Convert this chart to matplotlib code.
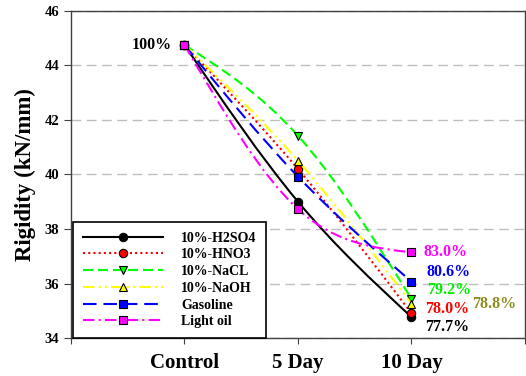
import numpy as np
import matplotlib
matplotlib.use("Agg")
import matplotlib.pyplot as plt
from matplotlib.path import Path
from matplotlib.patches import PathPatch
from matplotlib.lines import Line2D

plt.rcParams['font.family'] = ['Liberation Serif', 'DejaVu Serif']
plt.rcParams['font.weight'] = 'bold'

# data: rigidity at each exposure stage
stages = ['Control', '5 Day', '10 Day']
names = ['10%-H2SO4', '10%-HNO3', '10%-NaCL', '10%-NaOH', 'Gasoline', 'Light oil']
control = 44.75
day5 = [39.00, 40.20, 41.42, 40.50, 39.92, 38.73]
retained_pct = [77.7, 78.0, 79.2, 78.8, 80.6, 83.0]   # % of control after 10 days
day10 = [control * p / 100 for p in retained_pct]

colors = ['black', '#ff0000', '#00ff00', '#ffff00', '#0000ff', '#ff00ff']
markers = ['o', 'o', 'v', '^', 's', 's']
dashes = ['-', (0, (1, 1.5)), (0, (4.8, 2.4)), (0, (5.5, 2, 1, 2, 1, 2)),
          (0, (6.5, 3.3)), (0, (5.5, 2, 1, 2))]
label_colors = ['black', '#ff0000', '#00ee00', '#8c8c1e', '#0000ff', '#ff00ff']
label_offsets = [(10, -7), (10, 3), (11, 6), (44, 0), (11, 7), (9, 0)]  # points


def spline_path(xs, ys):
    """Natural cubic spline through the points, as a Bezier path."""
    xs = np.asarray(xs, float); ys = np.asarray(ys, float)
    n = len(xs); h = np.diff(xs)
    A = np.zeros((n, n)); b = np.zeros(n)
    A[0, 0] = A[-1, -1] = 1
    for i in range(1, n - 1):
        A[i, i - 1] = h[i - 1]; A[i, i] = 2 * (h[i - 1] + h[i]); A[i, i + 1] = h[i]
        b[i] = 6 * ((ys[i + 1] - ys[i]) / h[i] - (ys[i] - ys[i - 1]) / h[i - 1])
    M = np.linalg.solve(A, b)
    verts = [(xs[0], ys[0])]; codes = [Path.MOVETO]
    for i in range(n - 1):
        s = (ys[i + 1] - ys[i]) / h[i]
        d0 = s - h[i] * (2 * M[i] + M[i + 1]) / 6
        d1 = s + h[i] * (M[i] + 2 * M[i + 1]) / 6
        verts += [(xs[i] + h[i] / 3, ys[i] + d0 * h[i] / 3),
                  (xs[i + 1] - h[i] / 3, ys[i + 1] - d1 * h[i] / 3),
                  (xs[i + 1], ys[i + 1])]
        codes += [Path.CURVE4] * 3
    return Path(verts, codes)


fig = plt.figure(figsize=(5.26, 3.76), dpi=100)
ax = fig.add_axes([0.135, 0.101, 0.863, 0.870])
x = np.arange(1, len(stages) + 1)

handles = []
for i, name in enumerate(names):
    ys = [control, day5[i], day10[i]]
    ax.add_patch(PathPatch(spline_path(x, ys), fill=False, edgecolor=colors[i],
                           lw=1.5, linestyle=dashes[i], zorder=3 + 2 * i))
    ax.plot(x, ys, ls='none', marker=markers[i], ms=6, mfc=colors[i],
            mec='black', mew=0.8, zorder=4 + 2 * i)
    handles.append(Line2D([], [], color=colors[i], lw=1.5, linestyle=dashes[i],
                          marker=markers[i], ms=6, mfc=colors[i], mec='black', mew=0.8))
    ax.annotate(f"{retained_pct[i]:.1f}%", (3, day10[i]), xytext=label_offsets[i],
                textcoords='offset points', ha='left', va='center',
                fontsize=11.5, color=label_colors[i], fontweight='bold')

ax.annotate("100%", (1, control), xytext=(-9, 0), textcoords='offset points',
            ha='right', va='center', fontsize=11.5, fontweight='bold')

ax.set_xlim(0, 4)
ax.set_ylim(34, 46)
ax.set_xticks(range(0, 5))
ax.set_xticklabels([''] + stages + [''], fontsize=15, fontweight='bold')
ax.set_yticks(range(34, 47, 2))
ax.tick_params(axis='y', labelsize=10.5, length=5, direction='out', color='#404040')
ax.tick_params(axis='x', length=4, pad=7, direction='out', color='#404040')
for lbl in ax.get_yticklabels():
    lbl.set_fontweight('bold')
ax.set_ylabel("Rigidity (kN/mm)", fontsize=16.5, fontweight='bold', labelpad=6)

ax.set_xticks([1, 2, 3], minor=True)
ax.grid(True, which='minor', axis='x', color='#bebebe', ls=(0, (7, 4)), lw=1)
ax.grid(True, which='major', axis='y', color='#bebebe', ls=(0, (7, 4)), lw=1)
ax.tick_params(axis='x', which='minor', length=0)
for sp in ax.spines.values():
    sp.set_color('#404040'); sp.set_linewidth(1)

leg = ax.legend(handles, names, loc='lower left', bbox_to_anchor=(0.004, 0.0),
                borderaxespad=0, handlelength=5.8, handletextpad=1.3,
                labelspacing=0.27, borderpad=0.7, fancybox=False, framealpha=1,
                edgecolor='black', prop={'weight': 'bold', 'size': 10})
leg.get_frame().set_linewidth(1.2)
leg.set_zorder(20)

fig.savefig("out.png", dpi=100)
